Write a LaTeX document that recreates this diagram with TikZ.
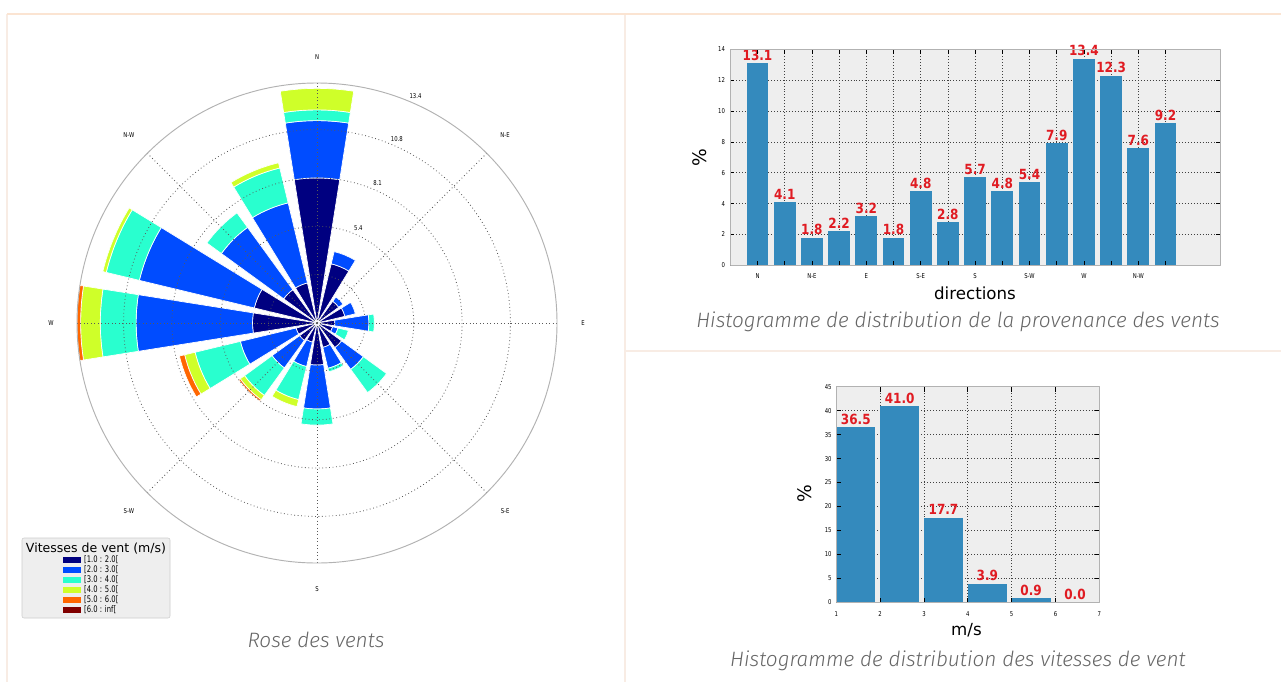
\documentclass[tikz,border=0pt]{standalone}
\usepackage{fontspec}
\setmainfont{DejaVu Sans}
\newfontfamily\capfont{Fira Sans Light}[ItalicFont={Fira Sans Light Italic}]
\usetikzlibrary{positioning}
% jet colours of the speed bins
\definecolor{jetA}{rgb}{0,0,0.5}
\definecolor{jetB}{rgb}{0,0.3,1}
\definecolor{jetC}{rgb}{0.16,1,0.81}
\definecolor{jetD}{rgb}{0.81,1,0.16}
\definecolor{jetE}{rgb}{1,0.4,0}
\definecolor{jetF}{rgb}{0.5,0,0}
\definecolor{barblue}{HTML}{348ABD}
\definecolor{axbg}{HTML}{EEEEEE}
\definecolor{lblred}{HTML}{E01B22}
\definecolor{capgray}{HTML}{666666}
\definecolor{peach}{HTML}{FBE4D2}
\definecolor{peachlight}{HTML}{F8ECE4}
\tikzset{
  rosegrid/.style={black!65, line width=0.6, dash pattern=on 0.6pt off 2pt},
  histgrid/.style={black!75, line width=0.5, dash pattern=on 0.6pt off 1.6pt},
  tinytick/.style={font=\fontsize{5}{6}\selectfont, inner sep=1pt, xscale=0.8},
  vallbl/.style={font=\fontsize{10.5}{11}\selectfont\bfseries, text=lblred, inner sep=0.5pt, anchor=south, xscale=0.86},
  axlbl/.style={font=\fontsize{12.5}{14}\selectfont, inner sep=0pt},
  caption/.style={font=\capfont\itshape\fontsize{15.6}{17}\selectfont, text=capgray, inner sep=0pt}
}
% one stacked piece of a rose petal: direction, inner, outer, colour
\newcommand{\roseseg}[4]{%
  \ifdim#3pt>#2pt
    \filldraw[fill=#4, draw=white, line width=0.5] (#1-99:#2*17.91) arc[start angle=#1-99, end angle=#1-81, radius=#2*17.91]
      -- (#1-81:#3*17.91) arc[start angle=#1-81, end angle=#1-99, radius=#3*17.91] -- cycle;
  \fi}
\begin{document}
\begin{tikzpicture}[x=0.75pt, y=-0.75pt, line join=round, line cap=butt]
\useasboundingbox (0,0) rectangle (1281,682);
\fill[white] (0,0) rectangle (1281,682);
% panels
\draw[peachlight, line width=1] (7,14) -- (7,682) (625,14) -- (625,682) (625,351) -- (1281,351);
\draw[peach, line width=1.5] (7,14) -- (1281,14);

% ---------- wind rose ----------
\begin{scope}[shift={(317,323)}]
  \foreach \i/\va/\vb/\vc/\vd/\ve in {0/8.1/11.3/11.9/13.1/13.1, 1/3.4/4.1/4.1/4.1/4.1, 2/1.5/1.8/1.8/1.8/1.8,
      3/1.6/2.2/2.2/2.2/2.2, 4/1.0/2.9/3.2/3.2/3.2, 5/0.9/1.2/1.8/1.8/1.8, 6/1.7/3.2/4.8/4.8/4.8,
      7/1.4/2.6/2.8/2.8/2.8, 8/2.35/4.8/5.7/5.7/5.7, 9/1.1/2.5/4.4/4.8/4.8, 10/1.2/3.1/5.0/5.3/5.4,
      11/1.2/4.4/7.0/7.6/7.9, 12/3.6/10.1/12.1/13.2/13.4, 13/3.6/10.2/12.1/12.3/12.3,
      14/2.3/6.6/7.6/7.6/7.6, 15/2.3/6.9/8.9/9.2/9.2}{
    \pgfmathsetmacro\d{22.5*\i}
    \roseseg{\d}{0}{\va}{jetA}
    \roseseg{\d}{\va}{\vb}{jetB}
    \roseseg{\d}{\vb}{\vc}{jetC}
    \roseseg{\d}{\vc}{\vd}{jetD}
    \roseseg{\d}{\vd}{\ve}{jetE}
  }
  \foreach \v in {2.7,5.4,8.1,10.8}
    \draw[rosegrid] (0,0) circle[radius=\v*17.91];
  \foreach \a in {0,45,...,315}
    \draw[rosegrid] (0,0) -- (\a-90:240);
  \draw[black!30, line width=0.7] (0,0) circle[radius=240];
  \foreach \a/\t in {0/N,45/N-E,90/E,135/S-E,180/S,225/S-W,270/W,315/N-W}
    \node[tinytick] (dir\a) at (\a-90:266) {\t};
  \foreach \v in {5.4,8.1,10.8,13.4}
    \node[tinytick] (ring\v) at (-66.5:\v*17.91+7) {\v};
\end{scope}
% legend
\draw[fill=axbg, draw=black!20, rounded corners=1.5] (22,538) rectangle (170,618);
\node[font=\fontsize{9.4}{10}\selectfont, inner sep=0pt] (legtitle) at (96,548.5) {Vitesses de vent (m/s)};
\foreach \k/\c/\t in {0/jetA/{[1.0 : 2.0[}, 1/jetB/{[2.0 : 3.0[}, 2/jetC/{[3.0 : 4.0[},
    3/jetD/{[4.0 : 5.0[}, 4/jetE/{[5.0 : 6.0[}, 5/jetF/{[6.0 : inf[}}{
  \fill[\c] (63,557+9.9*\k) rectangle (81,563+9.9*\k);
  \node[font=\fontsize{6.8}{7}\selectfont, xscale=0.75, anchor=west, inner sep=0pt] (leg\k) at (84,560+9.9*\k) {\t};
}
\node[caption] (capRose) at (316,640) {Rose des vents};

% ---------- histogram of directions ----------
\begin{scope}[shift={(757.5,265.3)}, x=20.4pt, y=11.57pt]
  \fill[axbg] (-1,0) rectangle (17,14);
  \foreach \v in {2,4,...,12}
    \draw[histgrid] (-1,\v) -- (17,\v);
  \foreach \k in {1,...,15}
    \draw[histgrid] (\k,0) -- (\k,14);
  \foreach \k/\v in {0/13.1,1/4.1,2/1.8,3/2.2,4/3.2,5/1.8,6/4.8,7/2.8,8/5.7,9/4.8,10/5.4,11/7.9,12/13.4,13/12.3,14/7.6,15/9.2}{
    \fill[barblue] (\k-0.4,0) rectangle (\k+0.4,\v);
    \node[vallbl] (hd\k) at (\k,\v+0.1) {\v};
  }
  \foreach \k in {0,...,15}
    \draw[black, line width=0.5] (\k,14) -- ++(0,-0.3) (\k,0) -- ++(0,0.3);
  \foreach \v in {0,2,...,14}{
    \draw[black, line width=0.5] (-1,\v) -- ++(0.15,0) (17,\v) -- ++(-0.15,0);
    \node[tinytick, anchor=east] (hy\v) at (-1.15,\v) {\v};
  }
  \draw[black!30, line width=0.6] (-1,0) rectangle (17,14);
  \foreach \k/\t in {0/N,2/N-E,4/E,6/S-E,8/S,10/S-W,12/W,14/N-W}
    \node[tinytick, anchor=north] (hx\k) at (\k,-0.45) {\t};
\end{scope}
\node[axlbl, rotate=90, font=\fontsize{14}{15}\selectfont] (hdy) at (700,158) {\%};
\node[axlbl] (hdx) at (975,293) {directions};
\node[caption] (capDir) at (958,322) {Histogramme de distribution de la provenance des vents};

% ---------- histogram of speeds ----------
\begin{scope}[shift={(792.5,602.3)}, x=32.87pt, y=3.593pt]
  \fill[axbg] (1,0) rectangle (7,45);
  \foreach \v in {5,10,...,40}
    \draw[histgrid] (1,\v) -- (7,\v);
  \foreach \k in {2,...,6}
    \draw[histgrid] (\k,0) -- (\k,45);
  \foreach \k/\v in {1/36.5,2/41.0,3/17.7,4/3.9,5/0.9,6/0.0}{
    \fill[barblue] (\k,0) rectangle (\k+0.89,\v);
    \node[vallbl] (hs\k) at (\k+0.445,\v+0.35) {\v};
  }
  \foreach \k in {1,...,7}{
    \draw[black, line width=0.5] (\k,45) -- ++(0,-1) (\k,0) -- ++(0,1);
    \node[tinytick, anchor=north] (sx\k) at (\k,-1.6) {\k};
  }
  \foreach \v in {0,5,...,45}{
    \draw[black, line width=0.5] (1,\v) -- ++(0.1,0) (7,\v) -- ++(-0.1,0);
    \node[tinytick, anchor=east] (sy\v) at (0.92,\v) {\v};
  }
  \draw[black!30, line width=0.6] (1,0) rectangle (7,45);
\end{scope}
\node[axlbl, rotate=90, font=\fontsize{14}{15}\selectfont] (hsy) at (805,494) {\%};
\node[axlbl] (hsx) at (966.5,630) {m/s};
\node[caption] (capSpd) at (958,660.5) {Histogramme de distribution des vitesses de vent};
\end{tikzpicture}
\end{document}
